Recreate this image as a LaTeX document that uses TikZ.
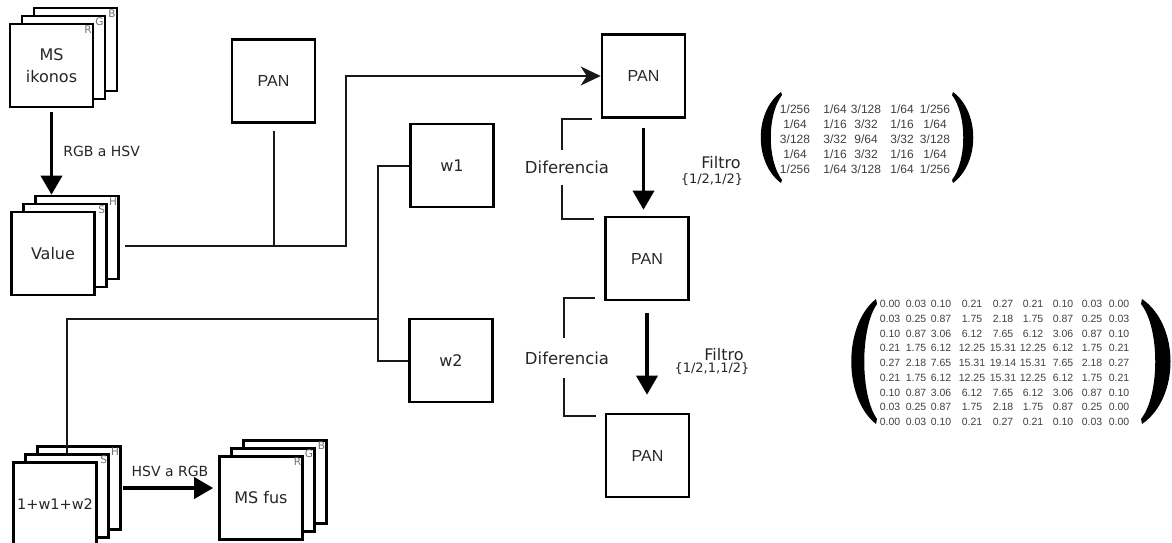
\documentclass[tikz,border=0pt]{standalone}
\usepackage{fontspec}
\setmainfont{DejaVu Sans}
\newfontfamily\panfont{Liberation Sans}
\usetikzlibrary{arrows.meta}

\begin{document}
\begin{tikzpicture}[x=1pt, y=-1pt,
  box/.style={draw=black, line width=2.6pt, fill=white, minimum width=83pt, minimum height=83pt, inner sep=0pt, align=center, text=black!85, font=\fontsize{16}{22}\selectfont},
  panbox/.style={box, font=\panfont\fontsize{16}{19}\selectfont},
  tag/.style={text=black!55, inner sep=2.5pt, font=\fontsize{10.5}{10.5}\selectfont},
  wire/.style={line width=2pt, draw=black!90},
  fat/.style={line width=3.6pt, draw=black, -{Triangle[width=21pt,length=19pt]}},
  lbl/.style={text=black!85, inner sep=0pt, font=\fontsize{16}{19}\selectfont},
  small/.style={text=black!85, inner sep=0pt, font=\fontsize{14}{16}\selectfont},
  mtxa/.style={text=black!75, inner sep=0pt, font=\panfont\fontsize{12}{12}\selectfont},
  mtxb/.style={text=black!75, inner sep=0pt, font=\panfont\fontsize{10.5}{10.5}\selectfont}]

\useasboundingbox (0,0) rectangle (1172,542);

% MS ikonos stack
\node[box, label={[tag,anchor=north east]north east:B}] (ms-b) at (75.5,49.5) {};
\node[box, label={[tag,anchor=north east]north east:G}] (ms-g) at (63.5,57.5) {};
\node[box, label={[tag,anchor=north east]north east:R}] (ms-r) at (51.5,65.5) {MS\\ikonos};

% Value stack
\node[box, label={[tag,anchor=north east]north east:H}] (val-h) at (77,237.5) {};
\node[box, label={[tag,anchor=north east]north east:S}] (val-s) at (65,245.5) {};
\node[box] (val-v) at (53,253.5) {Value};

% 1+w1+w2 stack
\node[box, label={[tag,anchor=north east]north east:H}] (sum-h) at (79,488) {};
\node[box, label={[tag,anchor=north east]north east:S}] (sum-s) at (67,496) {};
\node[box, font=\fontsize{14.5}{17}\selectfont] (sum-v) at (55,504) {1+w1+w2};

% MS fus stack
\node[box, label={[tag,anchor=north east]north east:B}] (fus-b) at (285,482) {};
\node[box, label={[tag,anchor=north east]north east:G}] (fus-g) at (273,490) {};
\node[box, label={[tag,anchor=north east]north east:R}] (fus-r) at (261,498) {MS fus};

% PAN and weights
\node[panbox] (pan0) at (273.5,81) {PAN};
\node[panbox] (pan1) at (643.5,76) {PAN};
\node[panbox] (pan2) at (647,258.5) {PAN};
\node[panbox] (pan3) at (647.5,455.5) {PAN};
\node[box] (w1) at (452,165.5) {w1};
\node[box] (w2) at (451,360.5) {w2};

% Conversions
\draw[fat, shorten <=4pt] (ms-r.south) -- node[small, midway, anchor=west, xshift=10pt] (rgbhsv) {RGB a HSV} (ms-r.south |- val-h.north);
\draw[fat, shorten <=1pt, shorten >=5pt] (sum-h.east) -- node[small, midway, above=10pt] (hsvrgb) {HSV a RGB} (sum-h.east -| fus-r.west);

% Value to PAN
\coordinate (vbend) at (346,245.5);
\draw[wire, -{Stealth[length=20pt,width=19pt,inset=6pt]}] ([xshift=17pt]val-s.east) -- (vbend) |- (pan1.west);
\draw[wire] ([yshift=-7pt]pan0.south) -- (pan0.south |- vbend);

% Weights to sum
\coordinate (wsum) at (378,319);
\draw[wire] (w1.west) -| (wsum) |- (w2.west);
\draw[wire] (wsum) -| (sum-s.north);

% Filters
\draw[fat, shorten <=9pt, shorten >=6pt] (pan1.south) -- (pan1.south |- pan2.north);
\draw[fat, shorten <=12pt, shorten >=18pt] (pan2.south) -- (pan2.south |- pan3.north);
\node[lbl] (filt1) at (721,163) {Filtro};
\node[small, font=\fontsize{13}{15}\selectfont] (filt1k) at (712,180) {\{1/2,1/2\}};
\node[lbl] (filt2) at (724,355) {Filtro};
\node[small, font=\fontsize{13}{15}\selectfont] (filt2k) at (712,369) {\{1/2,1,1/2\}};

% Differences
\node[lbl, minimum height=34pt, font=\fontsize{16.5}{19}\selectfont] (diff1) at (567,167.5) {Diferencia};
\draw[wire] ([xshift=-9pt]pan1.south west) -| ([xshift=-5pt]diff1.north);
\draw[wire] ([xshift=-5pt]diff1.south) |- ([xshift=-10pt,yshift=-3pt]pan2.north west);
\node[lbl, minimum height=40pt, font=\fontsize{16.5}{19}\selectfont] (diff2) at (567,358) {Diferencia};
\draw[wire] ([xshift=-9pt,yshift=3pt]pan2.south west) -| ([xshift=-3pt]diff2.north);
\draw[wire] ([xshift=-3pt]diff2.south) |- ([xshift=-9pt,yshift=-3pt]pan3.north west);

% Kernel 5x5
\fill (781,92) .. controls (754,112) and (754,163) .. (781,183) -- (782,180) .. controls (767,160) and (767,115) .. (782,95) -- cycle;
\fill (953,92) .. controls (980,112) and (980,163) .. (953,183) -- (952,180) .. controls (967,160) and (967,115) .. (952,95) -- cycle;
\foreach \row [count=\ri] in {{1/256,1/64,3/128,1/64,1/256},{1/64,1/16,3/32,1/16,1/64},{3/128,3/32,9/64,3/32,3/128},{1/64,1/16,3/32,1/16,1/64},{1/256,1/64,3/128,1/64,1/256}}
  \foreach \val [count=\ci] in \row {
    \pgfmathsetmacro\cx{{795,835,866,902,935}[\ci-1]}
    \node[mtxa] (ka-\ri-\ci) at (\cx, 94+15*\ri) {\val};
  }

% Kernel 9x9
\fill (876,299) .. controls (843,325) and (843,398) .. (876,424) -- (877,419) .. controls (860,395) and (860,328) .. (877,304) -- cycle;
\fill (1142,299) .. controls (1180,325) and (1180,398) .. (1142,424) -- (1141,419) .. controls (1160,395) and (1160,328) .. (1141,304) -- cycle;
\foreach \row [count=\ri] in {{0.00,0.03,0.10,0.21,0.27,0.21,0.10,0.03,0.00},{0.03,0.25,0.87,1.75,2.18,1.75,0.87,0.25,0.03},{0.10,0.87,3.06,6.12,7.65,6.12,3.06,0.87,0.10},{0.21,1.75,6.12,12.25,15.31,12.25,6.12,1.75,0.21},{0.27,2.18,7.65,15.31,19.14,15.31,7.65,2.18,0.27},{0.21,1.75,6.12,12.25,15.31,12.25,6.12,1.75,0.21},{0.10,0.87,3.06,6.12,7.65,6.12,3.06,0.87,0.10},{0.03,0.25,0.87,1.75,2.18,1.75,0.87,0.25,0.00},{0.00,0.03,0.10,0.21,0.27,0.21,0.10,0.03,0.00}}
  \foreach \val [count=\ci] in \row {
    \pgfmathsetmacro\cx{{890,916,941,972,1003,1033,1063,1092,1119}[\ci-1]}
    \node[mtxb] (kb-\ri-\ci) at (\cx, 289.25+14.75*\ri) {\val};
  }

\end{tikzpicture}
\end{document}
